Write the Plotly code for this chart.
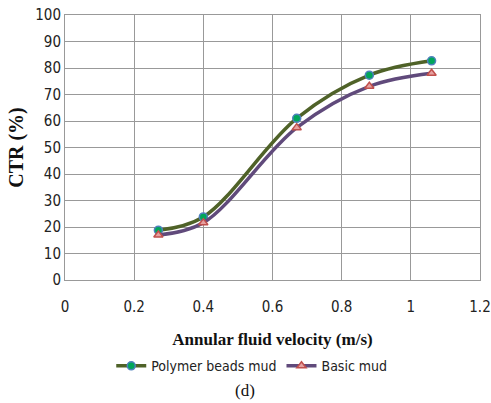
import plotly.graph_objects as go

velocity = [0.27, 0.40, 0.67, 0.88, 1.06]
polymer_ctr = [18.8, 23.8, 61.0, 77.3, 82.7]
basic_ctr = [17.0, 21.6, 57.5, 73.1, 78.0]
x_ticks = [0, 0.2, 0.4, 0.6, 0.8, 1.0, 1.2]
x_tick_labels = ["0", "0.2", "0.4", "0.6", "0.8", "1", "1.2"]
y_ticks = list(range(0, 101, 10))

tick_font = dict(family="Liberation Sans Narrow, DejaVu Sans Condensed, Arial Narrow, sans-serif", size=15, color="#222")
legend_font = dict(family="Liberation Sans Narrow, DejaVu Sans Condensed, Arial Narrow, sans-serif", size=14, color="#222")
serif_bold = dict(family="Liberation Serif, Times New Roman, serif", size=17, color="#111")

fig = go.Figure()
fig.add_trace(go.Scatter(
    x=velocity, y=polymer_ctr, name="Polymer beads mud", mode="lines+markers",
    line=dict(color="#4F6228", width=3.5, shape="spline", smoothing=1),
    marker=dict(symbol="circle", size=8, color="#00A65A", line=dict(color="#4F81BD", width=1.5)),
))
fig.add_trace(go.Scatter(
    x=velocity, y=basic_ctr, name="Basic mud", mode="lines+markers",
    line=dict(color="#604A7B", width=3.5, shape="spline", smoothing=1),
    marker=dict(symbol="triangle-up", size=8, color="#E6A0A0", line=dict(color="#C0504D", width=1.5)),
))

fig.update_layout(
    width=491, height=403,
    margin=dict(l=65, r=11, t=15, b=123, autoexpand=False),
    paper_bgcolor="white", plot_bgcolor="white",
    showlegend=True,
    legend=dict(orientation="h", x=0.45, xanchor="center", y=-0.265, yanchor="top",
                font=legend_font, itemwidth=30, bgcolor="rgba(0,0,0,0)"),
    xaxis=dict(range=[0, 1.2], tickvals=x_ticks, ticktext=x_tick_labels,
               showgrid=True, gridcolor="#999", gridwidth=1, automargin=False,
               showline=True, linecolor="#999", mirror=True, zeroline=False,
               ticks="", tickfont=tick_font, ticklabelstandoff=13,
               title=dict(text="<b>Annular fluid velocity (m/s)</b>", font=serif_bold, standoff=18)),
    yaxis=dict(range=[0, 100], tickvals=y_ticks, automargin=False,
               showgrid=True, gridcolor="#999", gridwidth=1,
               showline=True, linecolor="#999", mirror=True, zeroline=False,
               ticks="", tickfont=tick_font,
               title=dict(text="<b>CTR (%)</b>", font=dict(family="Liberation Serif, Times New Roman, serif", size=20, color="#111"), standoff=6)),
    annotations=[dict(text="(d)", x=0.434, xref="paper", y=-0.375, yref="paper",
                      yanchor="top", showarrow=False,
                      font=dict(family="Liberation Serif, Times New Roman, serif", size=17, color="#111"))],
)

fig.write_html("out.html")
